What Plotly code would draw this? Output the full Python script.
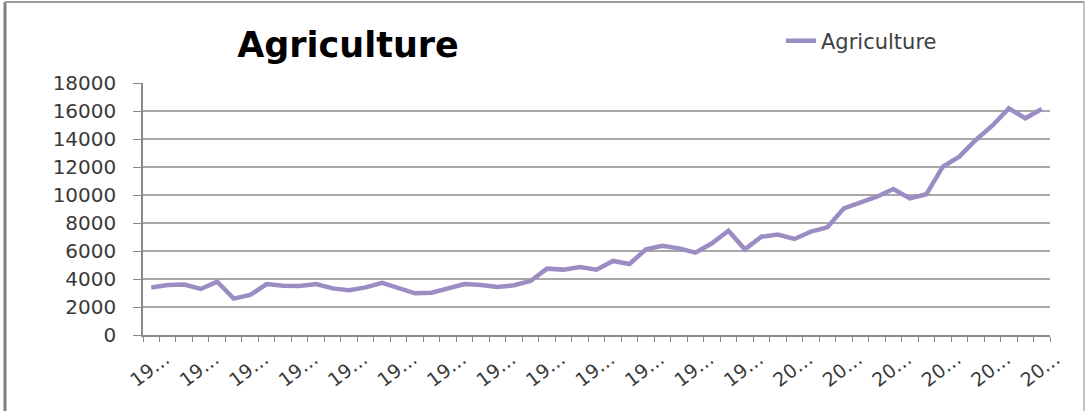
import plotly.graph_objects as go

# Agricultural output by year, 1961-2015
years = list(range(1961, 2016))
agriculture = [
    3400, 3570, 3600, 3290, 3810, 2600, 2860, 3640, 3520, 3500,
    3640, 3330, 3190, 3400, 3720, 3330, 2980, 3020, 3330, 3640,
    3570, 3430, 3550, 3860, 4740, 4670, 4860, 4670, 5290, 5070,
    6120, 6380, 6190, 5880, 6550, 7450, 6120, 7020, 7170, 6860,
    7380, 7690, 9050, 9480, 9880, 10430, 9760, 10050, 12020, 12740,
    13930, 14950, 16190, 15480, 16140,
]

# every third year is labelled; labels are clipped to their first two digits
label_years = years[::3]
label_text = [str(y)[:2] + "\u2026" for y in label_years]
y_ticks = list(range(0, 18001, 2000))
y_tick_text = [str(v) for v in y_ticks]

W, H = 1091, 411
ML, MR, MT, MB = 143, 41, 83, 76
PW, PH = W - ML - MR, H - MT - MB


def px_x(p):
    return (p - ML) / PW


def px_y(p):
    return (H - MB - p) / PH


fig = go.Figure()
fig.add_trace(go.Scatter(
    x=years, y=agriculture, mode="lines", name="Agriculture",
    line=dict(color="#9b8dc3", width=4.5),
))

font_face = "DejaVu Sans"
fig.update_layout(
    width=W, height=H,
    margin=dict(l=ML, r=MR, t=MT, b=MB, pad=0),
    paper_bgcolor="white", plot_bgcolor="white",
    title=dict(text="<b>Agriculture</b>", x=348 / W, xanchor="center",
               y=1 - 45 / H, yanchor="middle",
               font=dict(family=font_face, size=35, color="black")),
    showlegend=True,
    legend=dict(x=px_x(781), xanchor="left", y=px_y(41), yanchor="middle",
                font=dict(family=font_face, size=21, color="#404040"),
                bgcolor="rgba(0,0,0,0)"),
    xaxis=dict(
        range=[years[0] - 0.5, years[-1] + 0.5],
        tickmode="array", tickvals=label_years, ticktext=label_text,
        tickangle=-37, ticks="", ticklabelstandoff=4, ticklabelshift=14,
        tickfont=dict(family=font_face, size=19, color="#3a3a3a"),
        showgrid=False, zeroline=False,
        showline=True, linecolor="#8a8a8a", linewidth=1.5,
        minor=dict(tickmode="array",
                   tickvals=[y - 0.5 for y in years] + [years[-1] + 0.5],
                   ticks="outside", ticklen=5, tickcolor="#8a8a8a",
                   tickwidth=1.2, showgrid=False),
    ),
    yaxis=dict(
        range=[0, 18000], tickmode="array", tickvals=y_ticks,
        ticktext=y_tick_text,
        ticks="outside", ticklen=8, tickcolor="#8a8a8a", tickwidth=1.2,
        ticklabelstandoff=13,
        tickfont=dict(family=font_face, size=20, color="#3a3a3a"),
        showgrid=True, gridcolor="#a8a8a8", gridwidth=1.5,
        zeroline=False, showline=True, linecolor="#8a8a8a", linewidth=1.5,
    ),
)

# chart frame
frame = [
    (px_x(5), px_y(2), px_x(5), px_y(420), 3, "#808080"),
    (px_x(5), px_y(2), px_x(1084), px_y(2), 2, "#9a9a9a"),
    (px_x(1084), px_y(2), px_x(1084), px_y(420), 1.5, "#b0b0b0"),
]
for x0, y0, x1, y1, w, c in frame:
    fig.add_shape(type="line", xref="paper", yref="paper",
                  x0=x0, y0=y0, x1=x1, y1=y1,
                  line=dict(color=c, width=w))

fig.write_html("out.html")
